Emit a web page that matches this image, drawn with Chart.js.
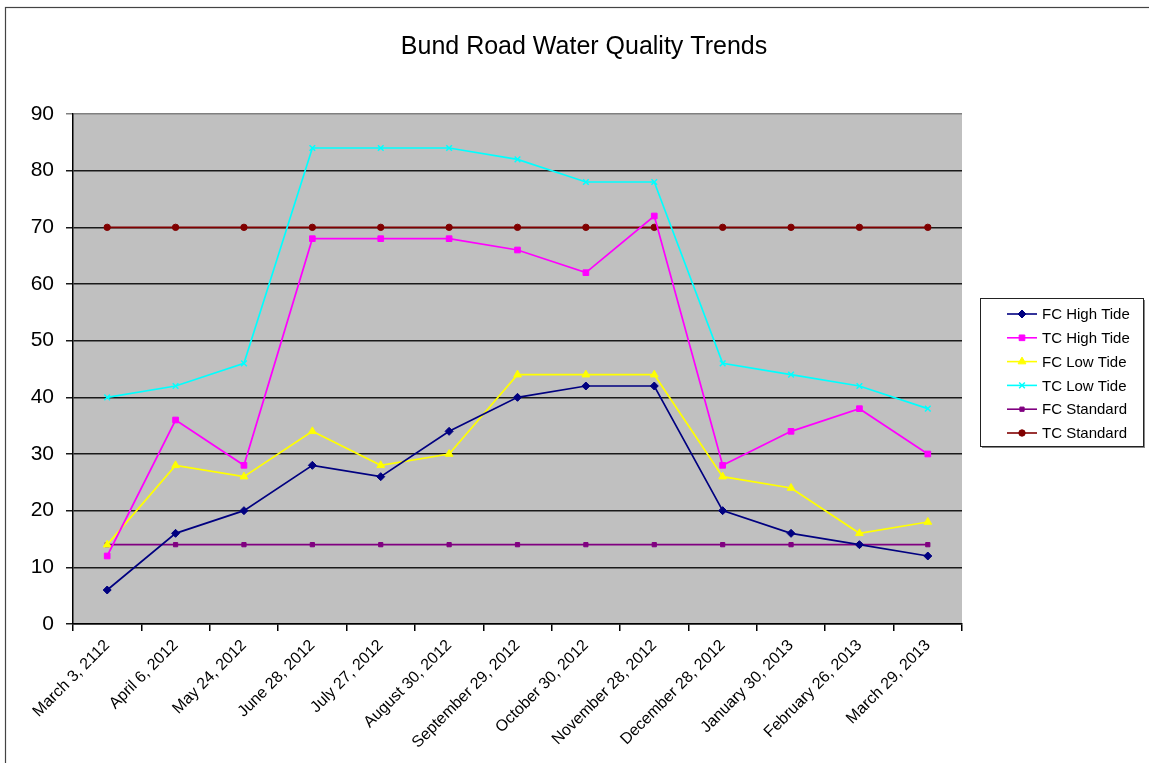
<!DOCTYPE html>
<html>
<head>
<meta charset="utf-8">
<script src="https://cdn.jsdelivr.net/npm/chart.js@4.4.1/dist/chart.umd.min.js"></script>
<style>
  html, body { margin: 0; padding: 0; background: #fff; }
  #wrap { width: 1149px; height: 763px; }
</style>
</head>
<body>
<div id="wrap"><canvas id="chart" width="1149" height="763"></canvas></div>
<script>
// sampling dates
const dates = [
  "March 3, 2112", "April 6, 2012", "May 24, 2012", "June 28, 2012",
  "July 27, 2012", "August 30, 2012", "September 29, 2012", "October 30, 2012",
  "November 28, 2012", "December 28, 2012", "January 30, 2013",
  "February 26, 2013", "March 29, 2013"
];

const fcHighTide = [6, 16, 20, 28, 26, 34, 40, 42, 42, 20, 16, 14, 12];
const tcHighTide = [12, 36, 28, 68, 68, 68, 66, 62, 72, 28, 34, 38, 30];
const fcLowTide = [14, 28, 26, 34, 28, 30, 44, 44, 44, 26, 24, 16, 18];
const tcLowTide = [40, 42, 46, 84, 84, 84, 82, 78, 78, 46, 44, 42, 38];
const fcStandard = [14, 14, 14, 14, 14, 14, 14, 14, 14, 14, 14, 14, 14];
const tcStandard = [70, 70, 70, 70, 70, 70, 70, 70, 70, 70, 70, 70, 70];

const yTicks = [0, 10, 20, 30, 40, 50, 60, 70, 80, 90];
const chartTitle = "Bund Road Water Quality Trends";

const FONT = "'Liberation Sans', Arial, sans-serif";

function series(label, data, color, style, radius) {
  return {
    label: label,
    data: data,
    borderColor: color,
    backgroundColor: color,
    pointBackgroundColor: color,
    pointBorderColor: color,
    borderWidth: 1.7,
    pointStyle: style,
    pointRadius: radius,
    pointBorderWidth: style === "crossRot" ? 1.5 : 1,
    tension: 0
  };
}

// excel-like frame, grey plot area, title and a boxed legend with line + marker
const excelLook = {
  id: "excelLook",
  beforeDraw(chart) {
    const ctx = chart.ctx;
    const a = chart.chartArea;
    ctx.save();
    ctx.fillStyle = "#fff";
    ctx.fillRect(0, 0, chart.width, chart.height);
    ctx.strokeStyle = "#444";
    ctx.lineWidth = 1.2;
    ctx.strokeRect(5.5, 7.5, chart.width + 10, chart.height + 10);
    ctx.fillStyle = "#c0c0c0";
    ctx.fillRect(a.left, a.top, a.right - a.left, a.bottom - a.top);
    ctx.fillStyle = "#000";
    ctx.font = "25px " + FONT;
    ctx.textAlign = "center";
    ctx.textBaseline = "middle";
    ctx.fillText(chartTitle, 584, 47);
    ctx.restore();
  },
  afterDraw(chart) {
    const ctx = chart.ctx;
    const x0 = 980, y0 = 298, w = 163, h = 148;
    ctx.save();
    ctx.fillStyle = "#888";
    ctx.fillRect(x0 + 2, y0 + 2, w, h);
    ctx.fillStyle = "#fff";
    ctx.fillRect(x0, y0, w, h);
    ctx.strokeStyle = "#222";
    ctx.lineWidth = 1;
    ctx.strokeRect(x0 + 0.5, y0 + 0.5, w, h);
    ctx.font = "15px " + FONT;
    ctx.textBaseline = "middle";
    chart.data.datasets.forEach(function (ds, i) {
      const y = y0 + 16 + i * 23.8;
      ctx.strokeStyle = ds.borderColor;
      ctx.fillStyle = ds.borderColor;
      ctx.lineWidth = 1.6;
      ctx.beginPath();
      ctx.moveTo(1007, y);
      ctx.lineTo(1037, y);
      ctx.stroke();
      ctx.lineWidth = ds.pointBorderWidth;
      Chart.helpers.drawPoint(ctx, {
        pointStyle: ds.pointStyle,
        radius: ds.pointRadius,
        rotation: 0,
        borderWidth: ds.pointBorderWidth
      }, 1022, y);
      ctx.fillStyle = "#000";
      ctx.fillText(ds.label, 1042, y + 1);
    });
    ctx.restore();
  }
};

const ctx = document.getElementById("chart").getContext("2d");

const myChart = new Chart(ctx, {
  type: "line",
  data: {
    labels: dates,
    datasets: [
      series("FC High Tide", fcHighTide, "#000080", "rectRot", 4),
      series("TC High Tide", tcHighTide, "#ff00ff", "rect", 4),
      series("FC Low Tide", fcLowTide, "#ffff00", "triangle", 4.5),
      series("TC Low Tide", tcLowTide, "#00ffff", "crossRot", 4),
      series("FC Standard", fcStandard, "#800080", "rect", 3),
      series("TC Standard", tcStandard, "#800000", "circle", 3.2)
    ]
  },
  options: {
    responsive: false,
    animation: false,
    layout: { padding: { top: 114, right: 187, left: 0, bottom: 0 } },
    plugins: {
      legend: { display: false },
      tooltip: { enabled: false },
      title: { display: false }
    },
    scales: {
      x: {
        offset: true,
        grid: { drawOnChartArea: false, drawTicks: true, tickLength: 7, offset: true, color: "#000", lineWidth: 1.5 },
        border: { display: true, color: "#000", width: 1.5 },
        ticks: {
          color: "#000",
          font: { family: FONT, size: 16 },
          minRotation: 45,
          maxRotation: 45,
          autoSkip: false,
          padding: 5
        },
        afterFit(scale) { scale.height = 139; }
      },
      y: {
        min: 0,
        max: 90,
        grid: {
          color: function (c) { return c.tick && c.tick.value === 90 ? "#808080" : "#1a1a1a"; },
          lineWidth: 1.5,
          tickLength: 7,
          drawTicks: true
        },
        border: { display: true, color: "#000", width: 1.5 },
        afterBuildTicks(scale) { scale.ticks = yTicks.map(function (v) { return { value: v }; }); },
        ticks: {
          color: "#000",
          font: { family: FONT, size: 21 },
          padding: 12
        },
        afterFit(scale) { scale.width = 73; }
      }
    }
  },
  plugins: [excelLook]
});
</script>
</body>
</html>
